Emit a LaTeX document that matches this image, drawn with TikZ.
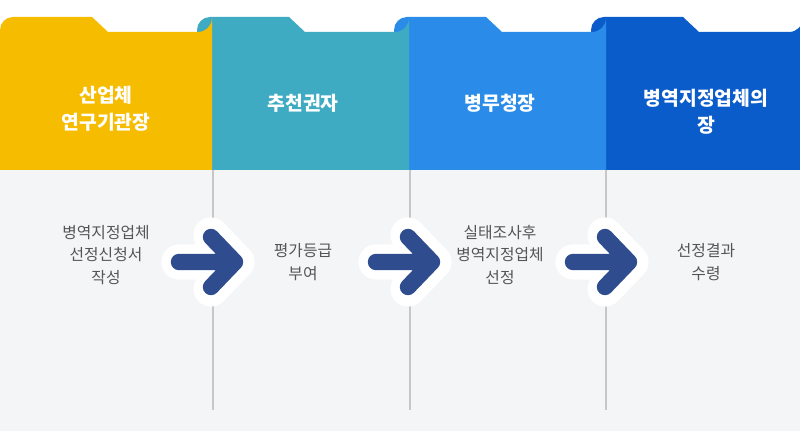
\documentclass[tikz,border=0pt]{standalone}
\usepackage{fontspec}
\setmainfont{Noto Sans CJK KR}
\usetikzlibrary{positioning}
\definecolor{cYellow}{HTML}{F6BC00}
\definecolor{cTeal}{HTML}{3FABC3}
\definecolor{cBlue}{HTML}{2A8CE8}
\definecolor{cNavy}{HTML}{0B5CCB}
\definecolor{cBody}{HTML}{F4F5F7}
\definecolor{cText}{HTML}{555555}
\definecolor{cArrow}{HTML}{2F4C8E}
\tikzset{
  head/.style={white,font=\bfseries\fontsize{16.5}{23}\selectfont,align=center},
  task/.style={cText,font=\fontsize{13.5}{19.5}\selectfont,align=center},
  sep/.style={line width=2.5pt,color=black!22},
}
\begin{document}
\begin{tikzpicture}[x=0.03cm,y=-0.03cm]
\useasboundingbox (0,0) rectangle (800,431);
\fill[cBody] (0,170) rectangle (800,431);
% folders, drawn right to left
\foreach \x/\c in {591/cNavy,394/cBlue,197/cTeal,0/cYellow}{
  \fill[\c] (\x,170) -- (\x,30) arc (180:270:13) -- (\x+92,17)
    -- (\x+108,32) -- (\x+198,32) arc (90:0:14) -- (\x+212,170) -- cycle;
}
% separators
\foreach \x in {213,410,606}
  \draw[sep] (\x,170) -- (\x,410);
\node[head] (h1) at (106,109) {산업체\\연구기관장};
\node[head] (h2) at (303,103) {추천권자};
\node[head] (h3) at (500,103) {병무청장};
\node[head] (h4) at (706,112) {병역지정업체의\\장};
\node[task] (s1) at (106,255) {병역지정업체\\선정신청서\\작성};
\node[task] (s2) at (303,262) {평가등급\\부여};
\node[task] (s3) at (500,255) {실태조사후\\병역지정업체\\선정};
\node[task] (s4) at (706,262) {선정결과\\수령};
% arrows
\foreach \x in {207,404,601}{
  \draw[white,line width=30pt,line cap=round,line join=round]
    (\x-28,262) -- (\x+30,262) (\x+4,235) -- (\x+30,262) -- (\x+4,289);
  \draw[cArrow,line width=14pt,line cap=round,line join=round]
    (\x-28,262) -- (\x+28,262) (\x+4,237) -- (\x+28,262) -- (\x+4,287);
}
\end{tikzpicture}
\end{document}
